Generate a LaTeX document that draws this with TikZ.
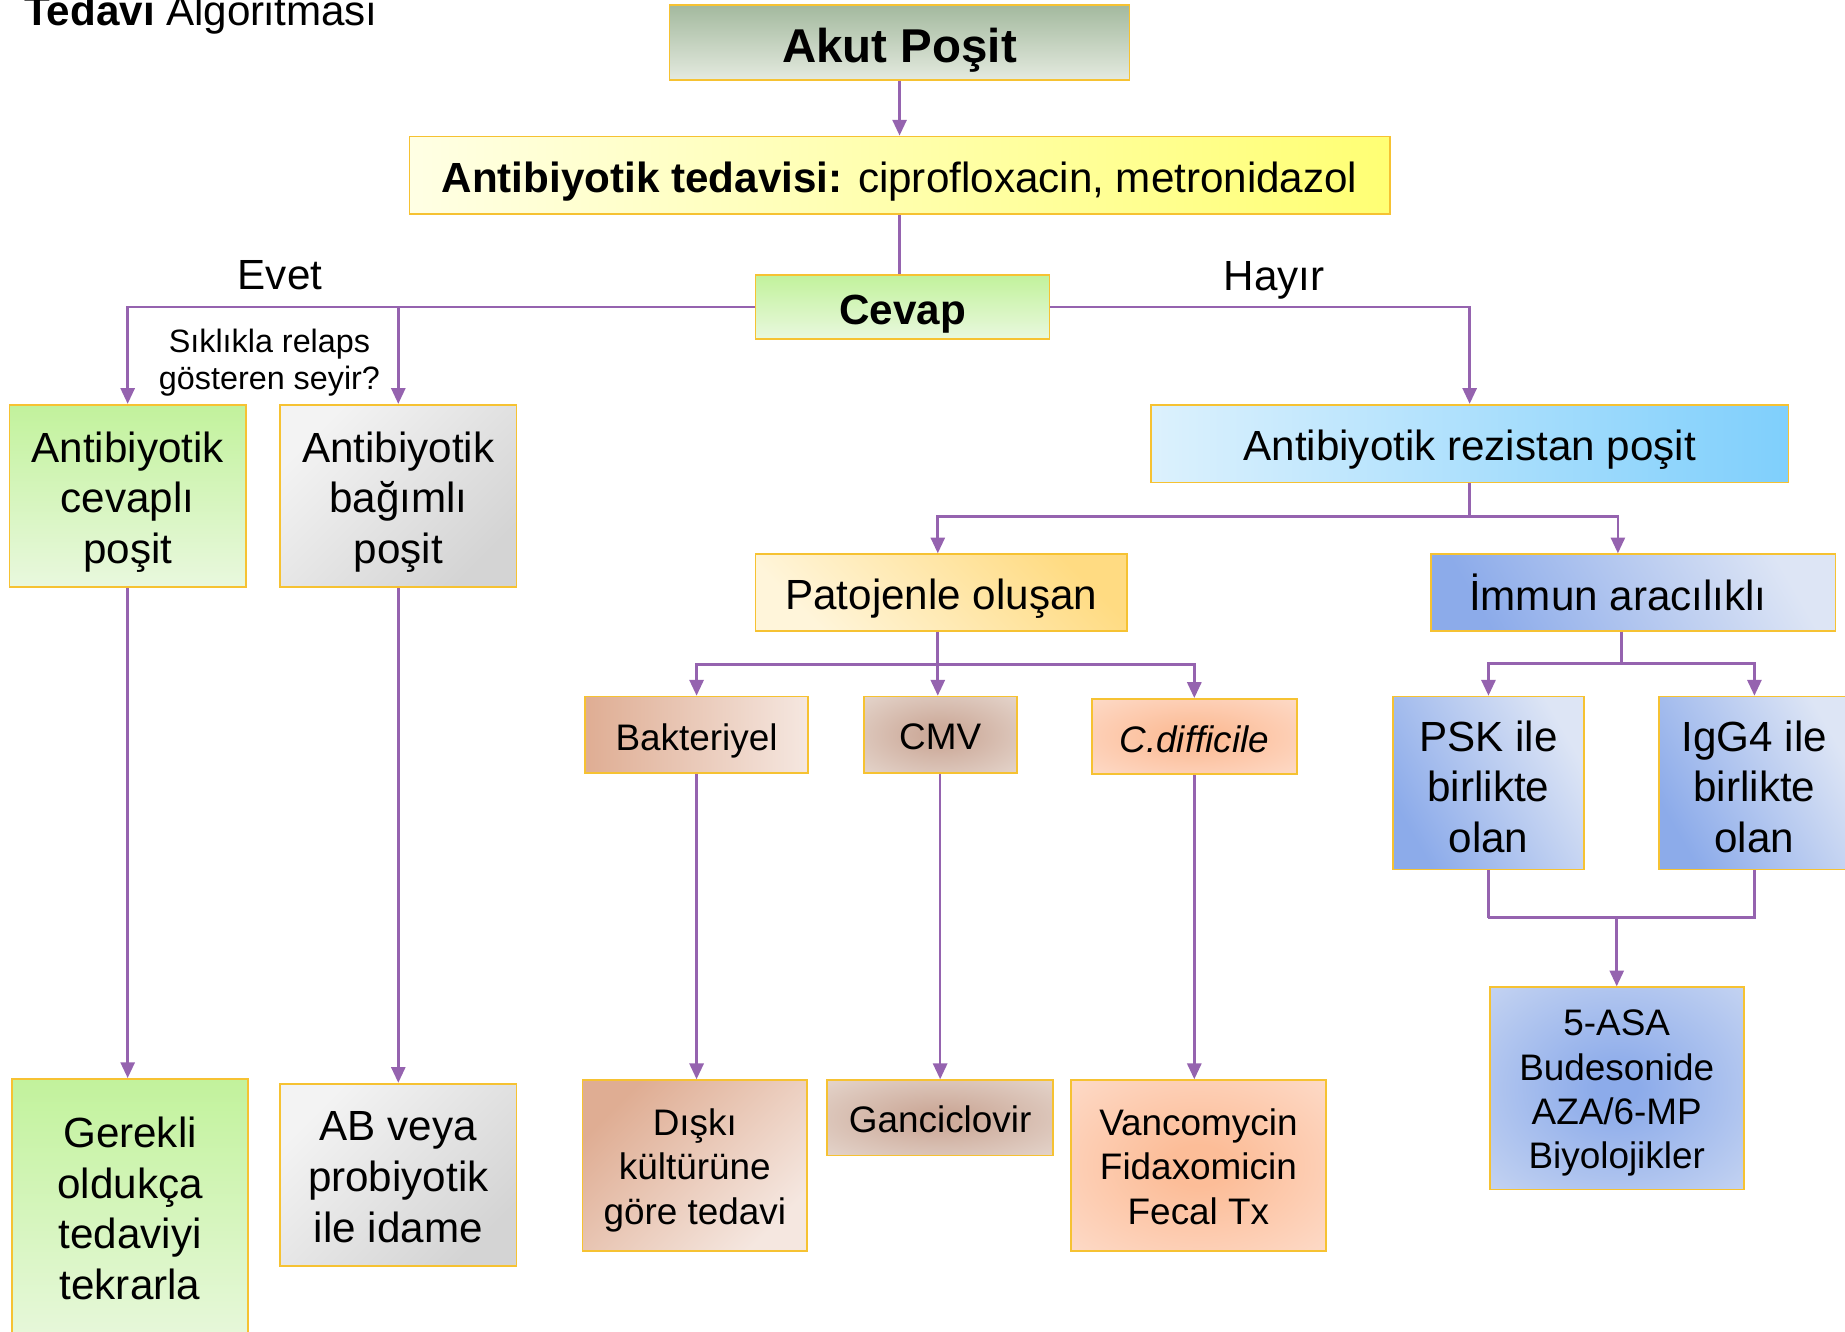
\documentclass[tikz,border=0pt]{standalone}
\usepackage{fontspec}
\setmainfont{Liberation Sans}
\usetikzlibrary{arrows.meta,calc}

% box fills
\definecolor{edgegold}{HTML}{F6C232}
\definecolor{lnk}{HTML}{9563AF}
\definecolor{grnTop}{HTML}{C2F29C}
\definecolor{grnBot}{HTML}{E9F8DE}
\definecolor{akutTop}{HTML}{A3B99E}
\definecolor{akutBot}{HTML}{E4EADF}
\definecolor{ylwL}{HTML}{FFFFE4}
\definecolor{ylwR}{HTML}{FFFF74}
\definecolor{gryL}{HTML}{F3F3F3}
\definecolor{gryD}{HTML}{D4D4D4}
\definecolor{cyanL}{HTML}{DCF1FD}
\definecolor{cyanR}{HTML}{7FCFFC}
\definecolor{orgL}{HTML}{FFF5DA}
\definecolor{orgD}{HTML}{FFDB82}
\definecolor{bluD}{HTML}{8CABEA}
\definecolor{bluL}{HTML}{DDE5F5}
\definecolor{tanD}{HTML}{DFAD93}
\definecolor{tanL}{HTML}{F5E7E0}
\definecolor{brnC}{HTML}{CDAB9B}
\definecolor{brnO}{HTML}{EFE8E2}
\definecolor{pchC}{HTML}{FCBD98}
\definecolor{pchO}{HTML}{FEE8DE}

% soft radial glows that fade out at the box edges
\pgfdeclareradialshading{brownglow}{\pgfpoint{0bp}{0bp}}%
  {color(0bp)=(brnC); color(6bp)=(brnC); color(50bp)=(brnO); color(75bp)=(brnO)}
\pgfdeclareradialshading{peachglow}{\pgfpoint{0bp}{0bp}}%
  {color(0bp)=(pchC); color(6bp)=(pchC); color(50bp)=(pchO); color(75bp)=(pchO)}
\pgfdeclareradialshading{blueglow}{\pgfpoint{0bp}{0bp}}%
  {color(0bp)=(bluD); color(4bp)=(bluD); color(50bp)=(bluL); color(75bp)=(bluL)}

\tikzset{
  box/.style={draw=edgegold, line width=0.5pt, inner sep=0pt},
  bigtxt/.style={font=\fontsize{12}{14.4}\selectfont},
  smalltxt/.style={font=\fontsize{10.5}{12.6}\selectfont},
  boldbig/.style={font=\fontsize{12}{14.4}\selectfont\bfseries},
  boldhuge/.style={font=\fontsize{13.5}{16}\selectfont\bfseries},
  boxtext/.style={inner sep=0pt, align=center},
  greenfill/.style={top color=grnTop, bottom color=grnBot},
  akutfill/.style={top color=akutTop, bottom color=akutBot},
  yellowfill/.style={left color=ylwL, right color=ylwR},
  grayfill/.style={shading=axis, top color=gryL, bottom color=gryD, shading angle=45},
  cyanfill/.style={left color=cyanL, right color=cyanR},
  orangefill/.style={shading=axis, top color=orgD, bottom color=orgL, shading angle=-45},
  bluefill/.style={shading=axis, top color=bluL, bottom color=bluD, shading angle=-60},
  blueradial/.style={shading=blueglow},
  tanfill/.style={left color=tanD, right color=tanL},
  tandiag/.style={shading=axis, top color=tanD, bottom color=tanL, shading angle=45},
  brownradial/.style={shading=brownglow},
  peachradial/.style={shading=peachglow},
  link/.style={draw=lnk, line width=0.75pt},
  arr/.style={link, -{Triangle[length=4.5pt,width=4pt]}},
  lbl/.style={font=\fontsize{12}{14.4}\selectfont, inner sep=0pt},
}

% box placed by its corners, with its text set at an offset from the centre:
% [dx,dy], name, fill style, font style, x1, y1, x2, y2, text
\newcommand\boxat[9][0,0]{%
  \pgfmathsetmacro\bxw{(#7-#5)*0.011767}%
  \pgfmathsetmacro\bxh{(#8-#6)*0.011767}%
  \node[box,#3,minimum width=\bxw cm,minimum height=\bxh cm] (#2)
    at ({(#5+#7)/2},{(#6+#8)/2}) {};
  \node[boxtext,#4] (#2-text) at ($(#2.center)+(#1)$) {#9};}

\begin{document}
\begin{tikzpicture}[x=0.011767cm, y=-0.011767cm]
\useasboundingbox (0,0) rectangle (1568,1132);

% title
\node[lbl, anchor=base west] (title) at (20,22) {\textbf{Tedavi} Algoritması};

% top chain
\boxat[0,7]{akut}{akutfill}{boldhuge}{569}{4}{960}{68}{Akut Poşit}
\boxat[0,5]{antib}{yellowfill}{bigtxt}{348}{116}{1181}{182}{\textbf{Antibiyotik tedavisi:} ciprofloxacin, metronidazol}
\boxat[0,6]{cevap}{greenfill}{boldbig}{642}{234}{892}{288}{Cevap}

\node[lbl, anchor=base] (evet) at (238,246) {Evet};
\node[lbl, anchor=base] (hayir) at (1083,247) {Hayır};
\node[lbl, align=center, font=\fontsize{9.2}{10.5}\selectfont] (relaps) at (229,308)
  {Sıklıkla relaps\\gösteren seyir?};

% left branch
\boxat[0,5]{cevapli}{greenfill}{bigtxt}{8}{344}{209}{499}{Antibiyotik\\cevaplı\\poşit}
\boxat[0,5]{bagimli}{grayfill}{bigtxt}{238}{344}{439}{499}{Antibiyotik\\bağımlı\\poşit}
\boxat[0,-6.5]{gerekli}{greenfill}{bigtxt}{10}{917}{211}{1150}{Gerekli\\oldukça\\tedaviyi\\tekrarla}
\boxat[0,2]{abveya}{grayfill}{bigtxt}{238}{921}{439}{1076}{AB veya\\probiyotik\\ile idame}

% right branch
\boxat[0,5]{rezistan}{cyanfill}{bigtxt}{978}{344}{1520}{410}{Antibiyotik rezistan poşit}
\boxat[0,5]{patojen}{orangefill}{bigtxt}{642}{471}{958}{536}{Patojenle oluşan}
\boxat[-13,0]{immun}{bluefill}{bigtxt}{1216}{471}{1560}{536}{İmmun aracılıklı}

\boxat[0,5]{bakteri}{tanfill}{smalltxt}{497}{592}{687}{657}{Bakteriyel}
\boxat[0,2]{cmv}{brownradial}{smalltxt}{734}{592}{864}{657}{CMV}
\boxat[0,2]{cdiff}{peachradial}{smalltxt}{928}{594}{1102}{658}{\textit{C.difficile}}

\boxat[0,4]{diski}{tandiag}{smalltxt}{495}{918}{686}{1063}{Dışkı\\kültürüne\\göre tedavi}
\boxat[0,1]{ganc}{brownradial}{smalltxt}{703}{918}{895}{982}{Ganciclovir}
\boxat[0,1]{vanco}{peachradial}{smalltxt}{910}{918}{1127}{1063}{Vancomycin\\Fidaxomicin\\Fecal Tx}

\boxat[0,3]{psk}{bluefill}{bigtxt}{1184}{592}{1346}{739}{PSK ile\\birlikte\\olan}
\boxat[0,3]{igg}{bluefill}{bigtxt}{1410}{592}{1572}{739}{IgG4 ile\\birlikte\\olan}
\boxat[0,4]{asa}{blueradial}{smalltxt}{1266}{839}{1482}{1011}{5-ASA\\Budesonide\\AZA/6-MP\\Biyolojikler}

% connectors
\draw[arr] (akut) -- (antib);
\draw[link] (antib.south) -- (antib.south |- cevap.north);
\draw[arr] (cevap.west) -| (cevapli.north);
\draw[arr] (cevap.west -| bagimli.north) -- (bagimli.north);
\draw[arr] (cevap.east) -| (rezistan.north);
\draw[arr] (cevapli.south) -- (cevapli.south |- gerekli.north);
\draw[arr] (bagimli.south) -- (bagimli.south |- abveya.north);

\draw[link] (rezistan.south) -- ++(0,28) coordinate (rz);
\draw[arr] (rz) -| ($(patojen.north)+(-3,0)$);
\draw[arr] (rz) -| ($(immun.north)+(-13,0)$);

\draw[link] ($(patojen.south)+(-3,0)$) -- ++(0,28) coordinate (pt);
\draw[arr] (pt) -| (bakteri.north);
\draw[arr] (pt) -- (pt |- cmv.north);
\draw[arr] (pt) -| (cdiff.north);
\draw[arr] (bakteri.south) -- (bakteri.south |- diski.north);
\draw[arr] (cmv.south) -- (cmv.south |- ganc.north);
\draw[arr] (cdiff.south) -- (cdiff.south |- vanco.north);

\draw[link] ($(immun.south)+(-10,0)$) -- ++(0,27) coordinate (im);
\draw[arr] (im) -| (psk.north);
\draw[arr] (im) -| (igg.north);
\draw[link] (psk.south) -- ++(0,40) coordinate (pj);
\draw[link] (igg.south) -- (igg.south |- pj) -- (pj);
\draw[arr] (pj -| asa.north) -- (asa.north);
\end{tikzpicture}
\end{document}
